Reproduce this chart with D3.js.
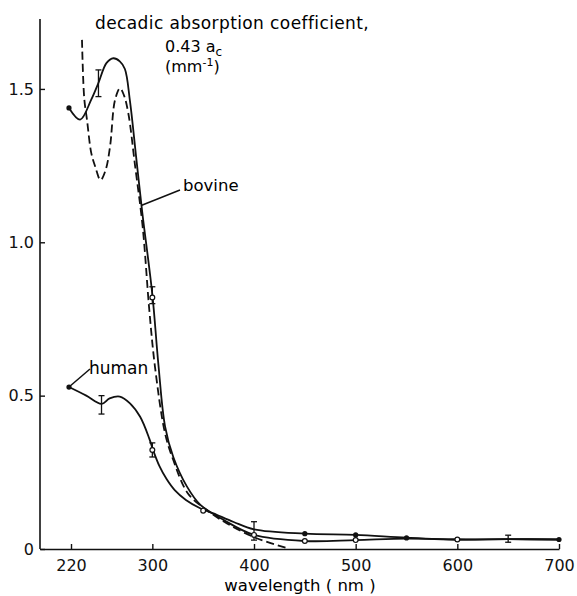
<!DOCTYPE html>
<html>
<head>
<meta charset="utf-8">
<script src="https://cdn.jsdelivr.net/npm/d3@7"></script>
<style>
  body { margin: 0; background: #fff; }
  svg { font-family: "DejaVu Sans", sans-serif; }
</style>
</head>
<body>
<div id="chart"></div>
<script>
// wavelength (nm) / absorption values
const bovineW = [218, 229, 240, 247, 255, 261.6, 268, 273, 278, 284, 290, 300, 306, 312.5, 320.6, 333.8, 347, 370, 400, 450, 500, 550, 600, 650, 700];
const bovineV = [1.438, 1.400, 1.466, 1.52, 1.585, 1.600, 1.590, 1.565, 1.46, 1.28, 1.10, 0.83, 0.60, 0.40, 0.30, 0.205, 0.145, 0.095, 0.046, 0.026, 0.029, 0.034, 0.031, 0.032, 0.031];

const humanW = [218, 235, 250, 258, 268, 278, 288, 297, 301, 307, 314, 322, 333, 347, 360, 380, 400, 450, 500, 550, 600, 650, 700];
const humanV = [0.528, 0.50, 0.473, 0.491, 0.497, 0.475, 0.431, 0.36, 0.32, 0.27, 0.228, 0.192, 0.16, 0.133, 0.116, 0.088, 0.064, 0.050, 0.046, 0.037, 0.031, 0.032, 0.031];

const dashW = [230.8, 233, 235.7, 240, 244, 249, 254, 258.4, 263.3, 268.2, 272, 276.4, 283, 290.5, 297, 302.6, 312.5, 320.6, 335, 353.5, 373, 402.6, 434];
const dashV = [1.66, 1.47, 1.40, 1.29, 1.245, 1.203, 1.235, 1.312, 1.464, 1.502, 1.48, 1.42, 1.25, 1.05, 0.78, 0.594, 0.377, 0.29, 0.181, 0.127, 0.084, 0.035, 0.002];

const errW = [247, 300, 250, 300, 400, 650];
const errLo = [1.475, 0.80, 0.44, 0.30, 0.029, 0.022];
const errHi = [1.562, 0.855, 0.50, 0.346, 0.089, 0.045];

const dotW = [218, 218, 450, 500, 550, 700];
const dotV = [1.438, 0.528, 0.050, 0.046, 0.036, 0.031];
const ringW = [300, 300, 350, 400, 450, 500, 600];
const ringV = [0.82, 0.323, 0.125, 0.046, 0.026, 0.029, 0.031];

const xTicks = [220, 300, 400, 500, 600, 700];
const yTicks = [0, 0.5, 1.0, 1.5];

const w = 577, h = 596;
const svg = d3.select('#chart').append('svg')
    .attr('width', w)
    .attr('height', h);

const x = d3.scaleLinear().domain([189.5, 700]).range([40, 559]);
const y = d3.scaleLinear().domain([0, 1.728]).range([549, 19]);

const zip = (a, b) => a.map((d, i) => [d, b[i]]);
const line = d3.line()
    .x(d => x(d[0]))
    .y(d => y(d[1]))
    .curve(d3.curveCatmullRom.alpha(0.5));

svg.append('path')
    .attr('d', line(zip(bovineW, bovineV)))
    .attr('fill', 'none').attr('stroke', '#111').attr('stroke-width', 1.8);
svg.append('path')
    .attr('d', line(zip(humanW, humanV)))
    .attr('fill', 'none').attr('stroke', '#111').attr('stroke-width', 1.8);
svg.append('path')
    .attr('d', line(zip(dashW, dashV)))
    .attr('fill', 'none').attr('stroke', '#111').attr('stroke-width', 1.8)
    .attr('stroke-dasharray', '8,4');

// error bars
const eb = svg.append('g').attr('stroke', '#111').attr('stroke-width', 1.3);
errW.forEach((d, i) => {
    eb.append('line').attr('x1', x(d)).attr('x2', x(d)).attr('y1', y(errLo[i])).attr('y2', y(errHi[i]));
    eb.append('line').attr('x1', x(d) - 3).attr('x2', x(d) + 3).attr('y1', y(errLo[i])).attr('y2', y(errLo[i]));
    eb.append('line').attr('x1', x(d) - 3).attr('x2', x(d) + 3).attr('y1', y(errHi[i])).attr('y2', y(errHi[i]));
});

svg.selectAll('circle.dot')
    .data(zip(dotW, dotV))
    .enter().append('circle')
    .attr('class', 'dot')
    .attr('cx', d => x(d[0])).attr('cy', d => y(d[1]))
    .attr('r', 2.6).attr('fill', '#111');
svg.selectAll('circle.ring')
    .data(zip(ringW, ringV))
    .enter().append('circle')
    .attr('class', 'ring')
    .attr('cx', d => x(d[0])).attr('cy', d => y(d[1]))
    .attr('r', 2.4).attr('fill', '#fff').attr('stroke', '#111').attr('stroke-width', 1.2);

// axes
const xAxis = d3.axisBottom(x).tickValues(xTicks).tickFormat(d3.format('d'))
    .tickSizeInner(-5).tickSizeOuter(0).tickPadding(11);
const yAxis = d3.axisLeft(y).tickValues(yTicks).tickFormat(d => d === 0 ? '0' : d3.format('.1f')(d))
    .tickSizeInner(-5).tickSizeOuter(0).tickPadding(6);

const gx = svg.append('g')
    .attr('transform', 'translate(0,549)')
    .call(xAxis);
const gy = svg.append('g')
    .attr('transform', 'translate(40,0)')
    .call(yAxis);
[gx, gy].forEach(g => {
    g.select('.domain').attr('stroke', '#111').attr('stroke-width', 1.6);
    g.selectAll('.tick line').attr('stroke', '#111').attr('stroke-width', 1.4);
    g.selectAll('.tick text').attr('fill', '#111').style('font-size', '16px')
        .style('font-family', '"DejaVu Sans", sans-serif');
});
gy.select('.domain').attr('d', 'M0,' + y(1.728) + 'V' + y(0));

svg.append('text')
    .attr('x', 300).attr('y', 591)
    .attr('text-anchor', 'middle')
    .style('font-size', '16.5px')
    .text('wavelength ( nm )');

// title block
svg.append('text').attr('x', 95).attr('y', 29).style('font-size', '17px')
    .style('letter-spacing', '0.4px')
    .text('decadic absorption coefficient,');
const t2 = svg.append('text').attr('x', 165).attr('y', 52).style('font-size', '16px');
t2.append('tspan').text('0.43 a');
t2.append('tspan').attr('dy', 4).style('font-size', '12px').text('c');
const t3 = svg.append('text').attr('x', 165).attr('y', 72).style('font-size', '16px');
t3.append('tspan').text('(mm');
t3.append('tspan').attr('dy', -6).style('font-size', '11px').text('-1');
t3.append('tspan').attr('dy', 6).text(')');

// curve labels with leader lines
svg.append('line')
    .attr('x1', x(289)).attr('y1', y(1.12))
    .attr('x2', 180).attr('y2', 190)
    .attr('stroke', '#111').attr('stroke-width', 1.5);
svg.append('text').attr('x', 183).attr('y', 191).style('font-size', '16.5px').text('bovine');

svg.append('line')
    .attr('x1', x(218)).attr('y1', y(0.528))
    .attr('x2', 90).attr('y2', 369)
    .attr('stroke', '#111').attr('stroke-width', 1.5);
svg.append('text').attr('x', 89).attr('y', 374).style('font-size', '17px').text('human');
</script>
</body>
</html>
